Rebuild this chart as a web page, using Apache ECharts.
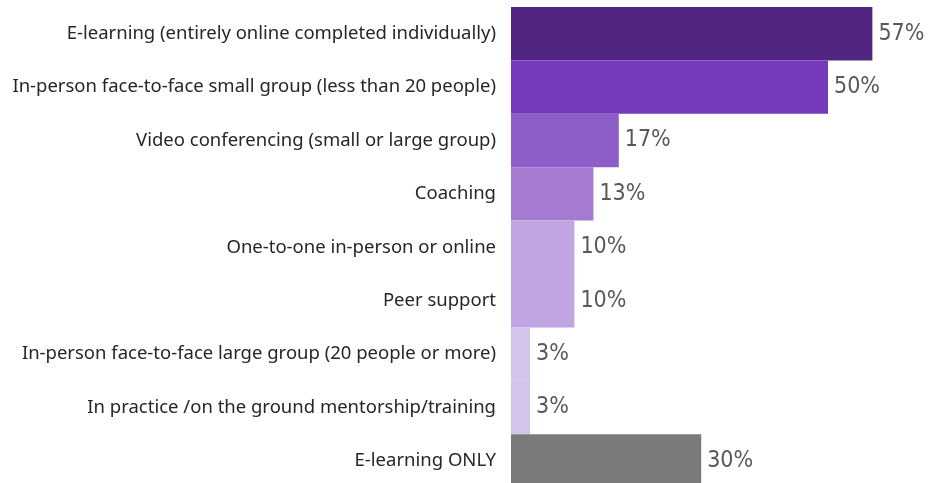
<!DOCTYPE html>
<html><head><meta charset="utf-8">
<script src="https://cdn.jsdelivr.net/npm/echarts@6/dist/echarts.min.js"></script>
<style>html,body{margin:0;padding:0;background:#fff}#c{width:931px;height:483px}</style>
</head><body><div id="c"></div>
<script>
const categories = [
  "E-learning (entirely online completed individually)",
  "In-person face-to-face small group (less than 20 people)",
  "Video conferencing (small or large group)",
  "Coaching",
  "One-to-one in-person or online",
  "Peer support",
  "In-person face-to-face large group (20 people or more)",
  "In practice /on the ground mentorship/training",
  "E-learning ONLY"
];
const values = [57, 50, 17, 13, 10, 10, 3, 3, 30];
const colors = ["#512683", "#7639BB", "#8D5EC7", "#A57BD1", "#C0A6E1", "#C0A6E1", "#D4C3EA", "#D4C3EA", "#7A7A7A"];

const chart = echarts.init(document.getElementById('c'));
chart.setOption({
  animation: false,
  grid: { left: 511, top: 7, width: 380.4, height: 480.6, containLabel: false, outerBoundsMode: 'none' },
  xAxis: { type: 'value', min: 0, max: 60, show: false },
  yAxis: {
    type: 'category', inverse: true, data: categories,
    axisLine: { show: false }, axisTick: { show: false },
    axisLabel: { margin: 15, color: '#262626', fontSize: 18.5, fontFamily: 'Noto Sans' }
  },
  series: [{
    type: 'bar', barCategoryGap: 0,
    data: values.map((v, i) => ({ value: v, itemStyle: { color: colors[i] } })),
    label: {
      show: true, position: 'right', distance: 6,
      formatter: '{c}%', color: '#595959', fontSize: 23,
      fontFamily: "'DejaVu Sans Condensed', 'Liberation Sans Narrow', Roboto, sans-serif"
    }
  }]
});
</script></body></html>
